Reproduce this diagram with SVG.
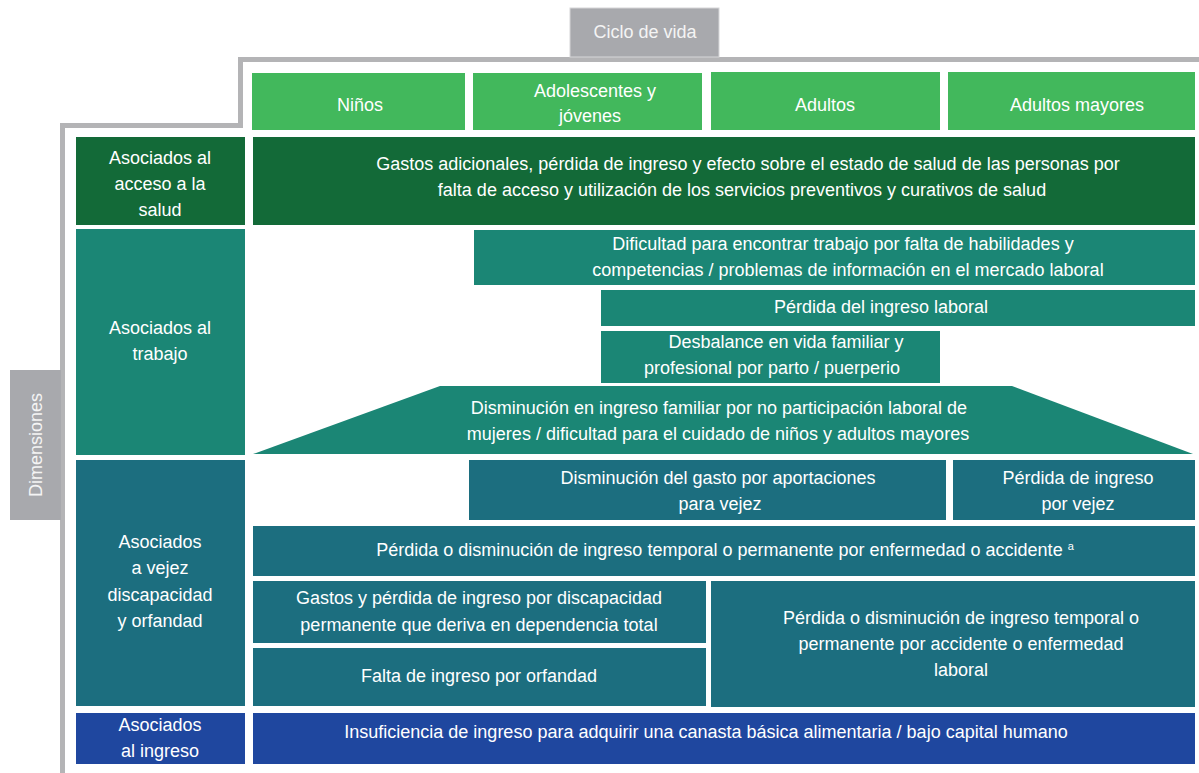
<svg xmlns="http://www.w3.org/2000/svg" width="1199" height="773" viewBox="0 0 1199 773">
<style>
text{font-family:"Liberation Sans",Arial,sans-serif;font-size:18px;fill:#ffffff;text-anchor:middle}
.lg{fill:#42b85c}
.dg{fill:#136a38}
.tl{fill:#1b8675}
.bt{fill:#1c6e7f}
.bl{fill:#1f479f}
.gr{fill:#a8a9ad}
.frame{fill:none;stroke:#b4b4b6;stroke-width:5}
</style>
<g id="frame">
<polyline class="frame" points="1199,59.5 240.5,59.5 240.5,125.5 62.5,125.5 62.5,773"/>
</g>
<g id="ciclo-de-vida">
<rect class="gr" x="570" y="8" width="149" height="49" stroke="#d6d6d8" stroke-width="1"/>
<text x="645" y="38" style="fill:#f4f4f4">Ciclo de vida</text>
</g>
<g id="dimensiones">
<rect class="gr" x="10" y="370" width="51" height="150"/>
<text transform="translate(42,445) rotate(-90)" style="fill:#f4f4f4">Dimensiones</text>
</g>
<g id="hdr-ninos">
<rect class="lg" x="252" y="73" width="213" height="57"/>
<text x="360" y="111">Niños</text>
</g>
<g id="hdr-adolescentes">
<rect class="lg" x="473" y="73" width="229" height="57"/>
<text x="595" y="97">Adolescentes y</text>
<text x="590" y="122">jóvenes</text>
</g>
<g id="hdr-adultos">
<rect class="lg" x="711" y="72" width="229" height="58"/>
<text x="825" y="111">Adultos</text>
</g>
<g id="hdr-adultos-mayores">
<rect class="lg" x="948" y="72" width="247" height="58"/>
<text x="1077" y="111">Adultos mayores</text>
</g>
<g id="dim-salud">
<rect class="dg" x="76" y="137" width="169" height="88"/>
<text x="160" y="164">Asociados al</text>
<text x="160" y="190">acceso a la</text>
<text x="160" y="216">salud</text>
</g>
<g id="salud-gastos">
<rect class="dg" x="253" y="137" width="942" height="88"/>
<text x="748" y="170">Gastos adicionales, pérdida de ingreso y efecto sobre el estado de salud de las personas por</text>
<text x="742" y="196">falta de acceso y utilización de los servicios preventivos y curativos de salud</text>
</g>
<g id="dim-trabajo">
<rect class="tl" x="76" y="229" width="169" height="226"/>
<text x="160" y="334">Asociados al</text>
<text x="160" y="360">trabajo</text>
</g>
<g id="trabajo-dificultad">
<rect class="tl" x="474" y="230" width="721" height="55"/>
<text x="843" y="250">Dificultad para encontrar trabajo por falta de habilidades y</text>
<text x="848" y="276">competencias / problemas de información en el mercado laboral</text>
</g>
<g id="trabajo-perdida">
<rect class="tl" x="601" y="290" width="594" height="36"/>
<text x="881" y="313">Pérdida del ingreso laboral</text>
</g>
<g id="trabajo-desbalance">
<rect class="tl" x="601" y="331" width="339" height="52"/>
<text x="786" y="348">Desbalance en vida familiar y</text>
<text x="772" y="374">profesional por parto / puerperio</text>
</g>
<g id="trabajo-disminucion">
<polygon class="tl" points="440,386 1012,386 1193,454 253,454"/>
<text x="719" y="414">Disminución en ingreso familiar por no participación laboral de</text>
<text x="718" y="440">mujeres / dificultad para el cuidado de niños y adultos mayores</text>
</g>
<g id="dim-vejez">
<rect class="bt" x="76" y="460" width="169" height="246"/>
<text x="160" y="548">Asociados</text>
<text x="160" y="574">a vejez</text>
<text x="160" y="601">discapacidad</text>
<text x="160" y="627">y orfandad</text>
</g>
<g id="vejez-aportaciones">
<rect class="bt" x="469" y="460" width="477" height="60"/>
<text x="718" y="484">Disminución del gasto por aportaciones</text>
<text x="720" y="510">para vejez</text>
</g>
<g id="vejez-perdida">
<rect class="bt" x="953" y="460" width="242" height="60"/>
<text x="1078" y="484">Pérdida de ingreso</text>
<text x="1078" y="510">por vejez</text>
</g>
<g id="vejez-temporal">
<rect class="bt" x="253" y="526" width="942" height="50"/>
<text x="725" y="556">Pérdida o disminución de ingreso temporal o permanente por enfermedad o accidente <tspan dy="-6" style="font-size:11px">a</tspan></text>
</g>
<g id="vejez-discapacidad">
<rect class="bt" x="253" y="581" width="453" height="62"/>
<text x="479" y="604">Gastos y pérdida de ingreso por discapacidad</text>
<text x="479" y="631">permanente que deriva en dependencia total</text>
</g>
<g id="vejez-orfandad">
<rect class="bt" x="253" y="648" width="453" height="58"/>
<text x="479" y="682">Falta de ingreso por orfandad</text>
</g>
<g id="vejez-laboral">
<rect class="bt" x="711" y="581" width="484" height="126"/>
<text x="961" y="624">Pérdida o disminución de ingreso temporal o</text>
<text x="961" y="650">permanente por accidente o enfermedad</text>
<text x="961" y="676">laboral</text>
</g>
<g id="dim-ingreso">
<rect class="bl" x="76" y="713" width="169" height="51"/>
<text x="160" y="731">Asociados</text>
<text x="160" y="757">al ingreso</text>
</g>
<g id="ingreso-insuficiencia">
<rect class="bl" x="253" y="713" width="942" height="51"/>
<text x="706" y="738">Insuficiencia de ingreso para adquirir una canasta básica alimentaria / bajo capital humano</text>
</g>
<g id="connectors"></g>
</svg>
